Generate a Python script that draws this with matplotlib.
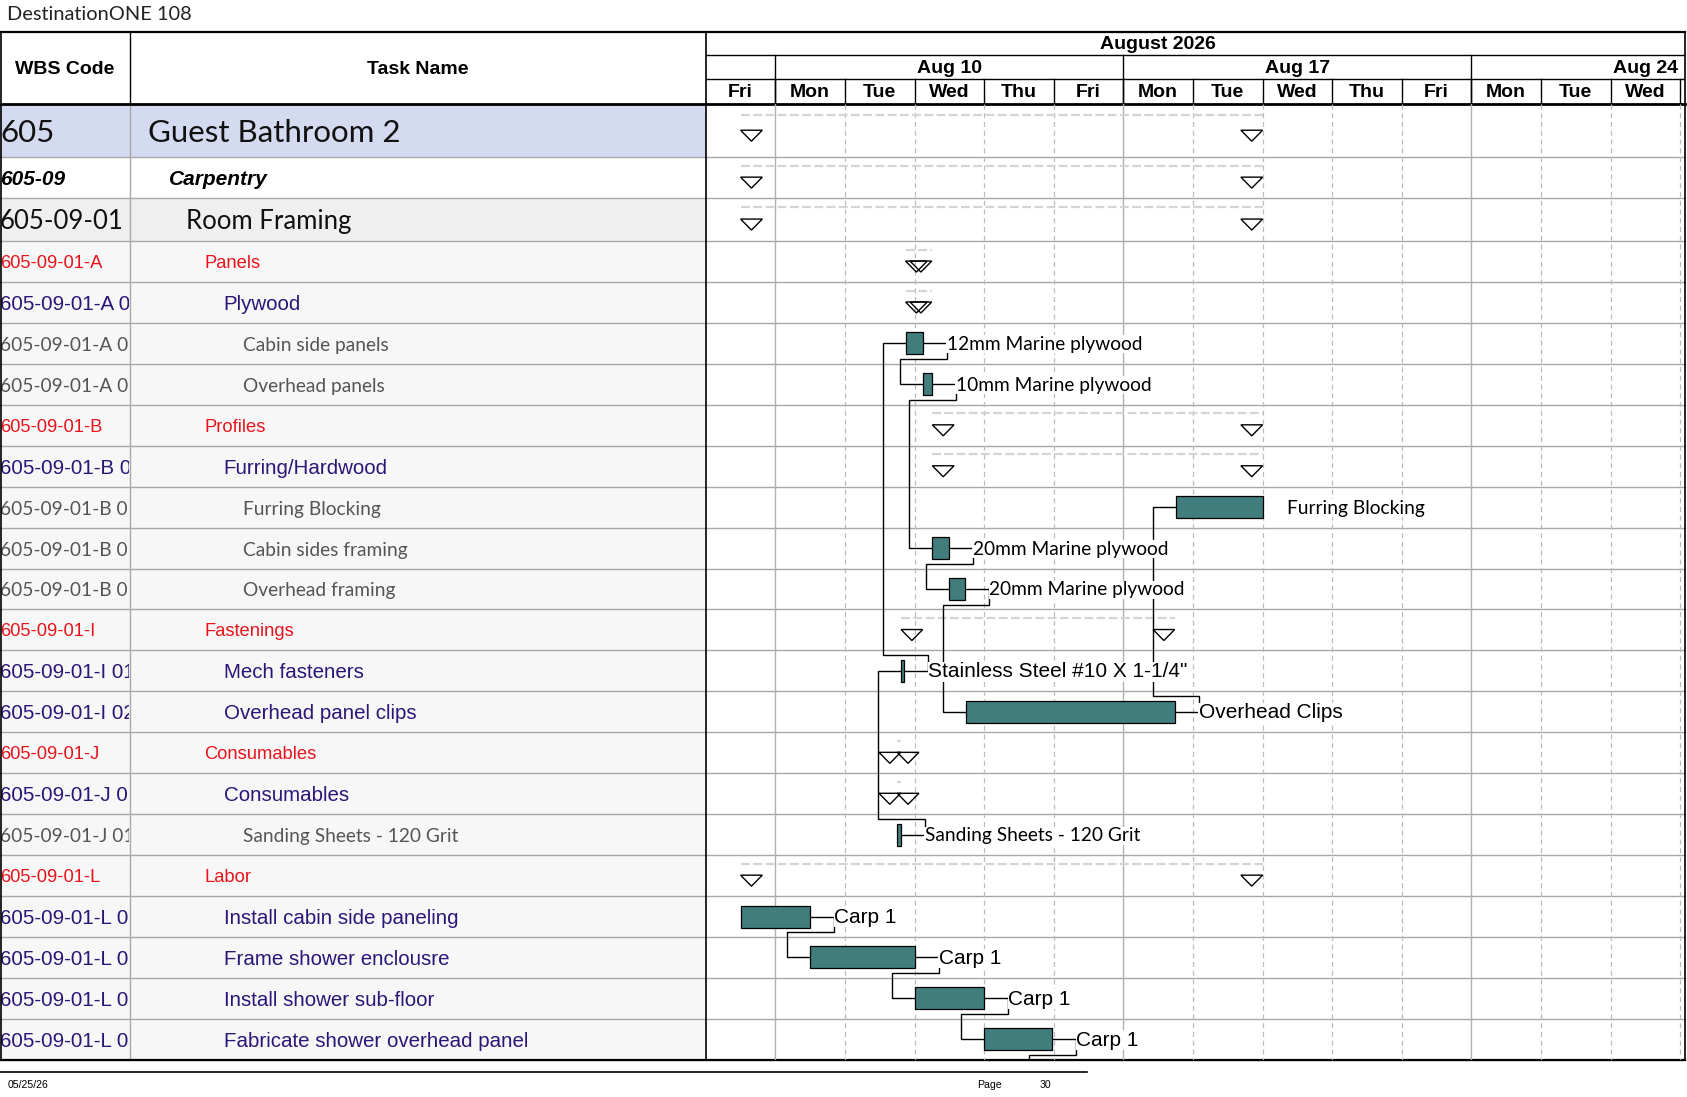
import numpy as np
import pandas as pd
import matplotlib.pyplot as plt
from matplotlib.patches import Rectangle, Polygon
from matplotlib.transforms import Bbox

# ---- data ----
wbs_codes = ["605", "605-09", "605-09-01",
             "605-09-01-A", "605-09-01-A 01", "605-09-01-A 01-01", "605-09-01-A 01-02",
             "605-09-01-B", "605-09-01-B 01", "605-09-01-B 01-01", "605-09-01-B 01-02", "605-09-01-B 01-03",
             "605-09-01-I", "605-09-01-I 01", "605-09-01-I 02",
             "605-09-01-J", "605-09-01-J 01", "605-09-01-J 01-01",
             "605-09-01-L", "605-09-01-L 01", "605-09-01-L 02", "605-09-01-L 03", "605-09-01-L 04"]
task_names = ["Guest Bathroom 2", "Carpentry", "Room Framing",
              "Panels", "Plywood", "Cabin side panels", "Overhead panels",
              "Profiles", "Furring/Hardwood", "Furring Blocking", "Cabin sides framing", "Overhead framing",
              "Fastenings", "Mech fasteners", "Overhead panel clips",
              "Consumables", "Consumables", "Sanding Sheets - 120 Grit",
              "Labor", "Install cabin side paneling", "Frame shower enclousre",
              "Install shower sub-floor", "Fabricate shower overhead panel"]
outline = ["top", "l1", "l2",
           "red", "purple", "gray", "gray",
           "red", "purple", "gray", "gray", "gray",
           "red", "purple", "purple",
           "red", "purple", "gray",
           "red", "purple", "purple", "purple", "purple"]
is_summary = [True, True, True,
              True, True, False, False,
              True, True, False, False, False,
              True, False, False,
              True, True, False,
              True, False, False, False, False]
# start / finish in working days from Fri Aug 7 2026
starts = [0.5, 0.5, 0.5,
          2.87, 2.87, 2.87, 3.125,
          3.255, 3.255, 6.75, 3.255, 3.495,
          2.805, 2.805, 3.739,
          2.75, 2.75, 2.75,
          0.5, 0.5, 1.5, 3.0, 4.0]
finishes = [8.0, 8.0, 8.0,
            3.246, 3.246, 3.116, 3.246,
            8.0, 8.0, 8.0, 3.49, 3.73,
            6.737, 2.85, 6.737,
            2.80, 2.80, 2.80,
            8.0, 1.5, 3.0, 4.0, 4.98]
bar_labels = [None, None, None,
              None, None, "12mm Marine plywood", "10mm Marine plywood",
              None, None, "Furring Blocking", "20mm Marine plywood", "20mm Marine plywood",
              None, 'Stainless Steel #10 X 1-1/4"', "Overhead Clips",
              None, None, "Sanding Sheets - 120 Grit",
              None, "Carp 1", "Carp 1", "Carp 1", "Carp 1"]
label_arial = [False] * 13 + [True, True] + [False] * 4 + [True] * 4
links = [(5, 6), (6, 10), (10, 11), (11, 14), (14, 9), (17, 13), (13, 5),
         (19, 20), (20, 21), (21, 22)]
offpage_link = (22, 4.98)   # successor on next page

first_day = "2026-08-07"
n_days = 14
days = pd.bdate_range(first_day, periods=n_days)

# ---- layout (pixels) ----
W, H = 1687, 1097
col1, col2, right = 130.2, 705.8, 1685.0
top, hdr1, hdr2, hdr_bot = 32.0, 55.3, 79.3, 104.4
row_h = [52.7, 40.9, 43.0] + [40.94] * 20
row_top = hdr_bot + np.concatenate([[0], np.cumsum(row_h)[:-1]])
row_bot = row_top + np.array(row_h)
body_bot = row_bot[-1]
day_px = 69.6
xmax = (right - col2) / day_px
px = 1.0 / day_px

LATO = ["Lato", "DejaVu Sans"]
ARIAL = ["Liberation Sans", "DejaVu Sans"]
styles = {
    "top": dict(family=LATO, size=22.5, color="#111111"),
    "l1": dict(family=ARIAL, size=15, color="#000000", weight="bold", style="italic"),
    "l2": dict(family=LATO, size=18.5, color="#111111"),
    "red": dict(family=ARIAL, size=13.2, color="#e8141c"),
    "purple": dict(family=ARIAL, size=14.8, color="#2b1577"),
    "gray": dict(family=LATO, size=13.8, color="#555555"),
}
name_x = {"top": 148.5, "l1": 169, "l2": 186, "red": 204.4, "purple": 223.8, "gray": 243.2}
row_bg = {"top": "#d4daf0", "l1": "#ffffff", "l2": "#efefef"}

fig = plt.figure(figsize=(W / 100, H / 100), dpi=100)
ax = fig.add_axes([0, 0, 1, 1])
ax.set_xlim(0, W)
ax.set_ylim(H, 0)
ax.axis("off")

# title
ax.text(7.5, 15, "DestinationONE 108", family=LATO, size=14.4, color="#222222",
        va="center", ha="left")

# table body
for i in range(len(task_names)):
    lv = outline[i]
    ax.add_patch(Rectangle((0, row_top[i]), col2, row_h[i],
                           facecolor=row_bg.get(lv, "#f7f7f7"), edgecolor="none", zorder=0))
    yc = (row_top[i] + row_bot[i]) / 2 + 2
    t = ax.text(0, yc, wbs_codes[i], va="center", ha="left", clip_on=True, **styles[lv])
    # clip the code to the WBS column (display pixels, origin bottom-left)
    t.set_clip_box(Bbox([[0, H - row_bot[i]], [col1 - 1, H - row_top[i]]]))
    ax.text(name_x[lv], yc, task_names[i], va="center", ha="left", **styles[lv])
    ax.plot([0, right], [row_bot[i], row_bot[i]], color="#a8a8a8", lw=1.0, zorder=1)
ax.plot([col1, col1], [hdr_bot, body_bot], color="#a8a8a8", lw=1.0)

# header of table
ax.text(col1 / 2, (top + hdr_bot) / 2 + 1, "WBS Code", family=ARIAL, size=14,
        weight="bold", ha="center", va="center")
ax.text((col1 + col2) / 2, (top + hdr_bot) / 2 + 1, "Task Name", family=ARIAL, size=14,
        weight="bold", ha="center", va="center")
ax.plot([col1, col1], [top, hdr_bot], color="black", lw=1.0)

# borders
ax.plot([0, right], [top, top], color="black", lw=1.6, zorder=6)
ax.plot([0, right], [hdr_bot, hdr_bot], color="black", lw=2.0, zorder=6)
ax.plot([0, right], [body_bot, body_bot], color="black", lw=1.6, zorder=6)
ax.plot([0.8, 0.8], [top, body_bot], color="black", lw=1.2, zorder=6)
ax.plot([col2, col2], [top, body_bot], color="black", lw=1.2, zorder=6)
ax.plot([right, right], [top, body_bot], color="black", lw=1.2, zorder=6)

# footer
ax.plot([0, 1087], [1071.5, 1071.5], color="black", lw=1.2)
ax.text(7.5, 1084.5, "05/25/26", family=ARIAL, size=7.6, va="center")
ax.text(977, 1084.5, "Page", family=ARIAL, size=7.6, va="center")
ax.text(1040, 1084.5, "30", family=ARIAL, size=7.6, va="center")

# ---- timescale header ----
hx = fig.add_axes([col2 / W, 1 - hdr_bot / H, (right - col2) / W, (hdr_bot - top) / H])
hx.set_xlim(0, xmax)
hx.set_ylim(hdr_bot, top)
hx.axis("off")
hx.plot([0, xmax], [hdr1, hdr1], color="black", lw=1.0)
hx.plot([0, xmax], [hdr2, hdr2], color="black", lw=1.0)
m0 = -np.busday_count("2026-08-01", first_day)
m1 = np.busday_count(first_day, "2026-09-01")
hx.text((m0 + m1) / 2, (top + hdr1) / 2 + 1, days[0].strftime("%B %Y"), family=ARIAL,
        size=14, weight="bold", ha="center", va="center")
for k, d in enumerate(days):
    if d.weekday() == 0:
        hx.plot([k, k], [hdr1, hdr_bot], color="black", lw=1.0)
        c = k + 2.5
        lab = d.strftime("%b %d").replace(" 0", " ")
        if c + 0.5 > xmax:
            hx.text(xmax - 0.12, (hdr1 + hdr2) / 2 + 1, lab, family=ARIAL, size=14,
                    weight="bold", ha="right", va="center")
        else:
            hx.text(c, (hdr1 + hdr2) / 2 + 1, lab, family=ARIAL, size=14,
                    weight="bold", ha="center", va="center")
    hx.plot([k + 1, k + 1], [hdr2, hdr_bot], color="black", lw=1.0)
    hx.text(k + 0.5, (hdr2 + hdr_bot) / 2 + 1, d.strftime("%a"), family=ARIAL, size=14,
            weight="bold", ha="center", va="center")

# ---- gantt body ----
gx = fig.add_axes([col2 / W, 1 - body_bot / H, (right - col2) / W, (body_bot - hdr_bot) / H])
gx.set_xlim(0, xmax)
gx.set_ylim(body_bot, hdr_bot)
gx.axis("off")
gx.patch.set_alpha(0)

for k in range(1, n_days + 1):
    wd = (days[0] + pd.offsets.BDay(k)).weekday()
    if wd == 0:
        gx.plot([k, k], [hdr_bot, body_bot], color="#b0b0b0", lw=1.0, zorder=1)
    else:
        gx.plot([k, k], [hdr_bot, body_bot], color="#bcbcbc", lw=0.9,
                dashes=(4, 3), zorder=1)

tri_w = 21.7 * px
tri_h = 11.0
bar_h = 22.0


def tri(x0, y0):
    return Polygon([(x0, y0), (x0 + tri_w, y0), (x0 + tri_w / 2, y0 + tri_h)],
                   closed=True, facecolor="none", edgecolor="black", lw=1.0, zorder=4)


centers = (row_top + row_bot) / 2
for i in range(len(task_names)):
    s, f = starts[i], finishes[i]
    if is_summary[i]:
        yd = row_top[i] + 0.21 * row_h[i]
        gx.plot([s, f], [yd, yd], color="#d4d4d4", lw=1.6, dashes=(4, 1.5), zorder=2)
        yt = row_top[i] + 0.49 * row_h[i]
        gx.add_patch(tri(s, yt))
        gx.add_patch(tri(f - tri_w, yt))
    else:
        gx.add_patch(Rectangle((s, centers[i] - bar_h / 2), f - s, bar_h,
                               facecolor="#427d7d", edgecolor="black", lw=0.9, zorder=4))
    if bar_labels[i]:
        fam = ARIAL if label_arial[i] else LATO
        size = 15 if label_arial[i] else 13.8
        gx.text(f + 24 * px, centers[i] + 1, bar_labels[i], family=fam, size=size,
                ha="left", va="center", zorder=5,
                bbox=dict(facecolor="white", edgecolor="none", pad=0.3))


def link(p, s_start, s_center, down, p_row):
    xe = finishes[p]
    yc = centers[p]
    yturn = row_bot[p_row] - 4.5 if down else row_top[p_row] + 4.5
    xa = xe + 24 * px
    xb = s_start - 23 * px
    gx.plot([xe, xa, xa, xb, xb, s_start], [yc, yc, yturn, yturn, s_center, s_center],
            color="black", lw=1.0, zorder=3, solid_joinstyle="miter")


for p, s in links:
    link(p, starts[s], centers[s], s > p, p)
link(offpage_link[0], offpage_link[1], body_bot + 20.5, True, offpage_link[0])

fig.savefig("out.png", dpi=100)
